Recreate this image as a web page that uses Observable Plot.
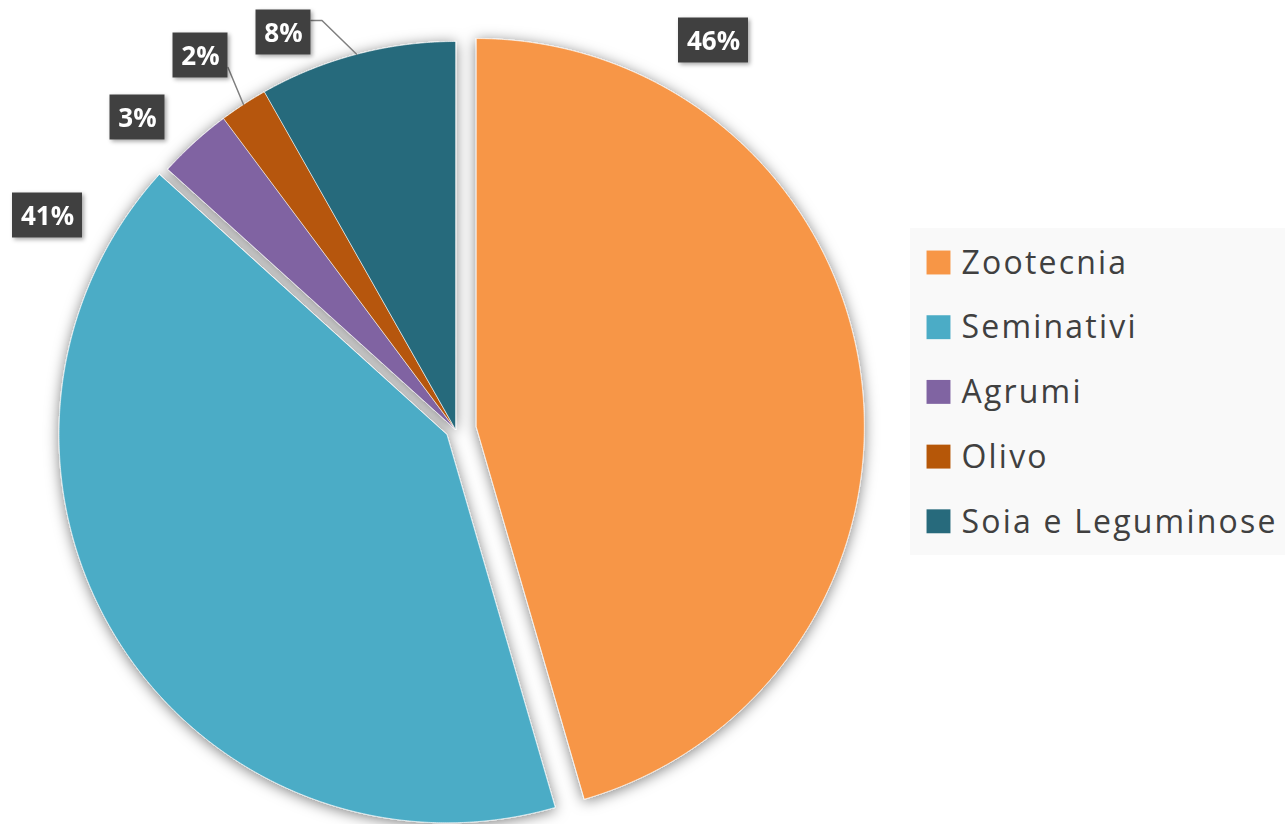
<!DOCTYPE html>
<html>
<head>
<meta charset="utf-8">
<script src="https://cdn.jsdelivr.net/npm/d3@7"></script>
<script src="https://cdn.jsdelivr.net/npm/@observablehq/plot@0.6"></script>
<style>
  html, body { margin: 0; padding: 0; background: #ffffff; }
  #chart { width: 1285px; height: 824px; }
</style>
</head>
<body>
<div id="chart"></div>
<script>
// ---- data ----
const names = ["Zootecnia", "Seminativi", "Agrumi", "Olivo", "Soia e Leguminose"];
const values = [45.5, 41.2, 3.1, 2.0, 8.2];
const labels = ["46%", "41%", "3%", "2%", "8%"];
const colors = ["#F79646", "#4BACC6", "#8064A2", "#B65708", "#276A7C"];

// ---- layout ----
const W = 1285, H = 824;
const cx = 455, cy = 429, R = 388;
const explode = [21, 10, 0, 0, 0];
const labelPos = [[713, 40], [47, 215], [137, 117], [200, 55], [283, 32]];
const legendBox = {x1: 910, x2: 1285, y1: 228, y2: 555};
const legendX = 938, legendTextX = 961, legendY0 = 262, legendStep = 64.7;

const arcs = d3.pie().sort(null).value(d => d)(values);

// slice polygons
const slicePts = [];
arcs.forEach((a, i) => {
  const mid = (a.startAngle + a.endAngle) / 2;
  const ox = cx + explode[i] * Math.sin(mid);
  const oy = cy - explode[i] * Math.cos(mid);
  slicePts.push({name: names[i], x: ox, y: oy});
  const n = Math.max(4, Math.ceil((a.endAngle - a.startAngle) / 0.005));
  for (let k = 0; k <= n; k++) {
    const t = a.startAngle + (a.endAngle - a.startAngle) * k / n;
    slicePts.push({name: names[i], x: ox + R * Math.sin(t), y: oy - R * Math.cos(t)});
  }
});

// label boxes
const labelData = labels.map((l, i) => {
  const w = l.length >= 3 ? 70 : 55;
  return {label: l, x: labelPos[i][0], y: labelPos[i][1], x1: labelPos[i][0] - w / 2, x2: labelPos[i][0] + w / 2,
          y1: labelPos[i][1] - 22.5, y2: labelPos[i][1] + 22.5};
});

// leader lines for small slices (Olivo, Soia)
const leaders = [];
function edgePoint(i) {
  const a = arcs[i];
  const mid = (a.startAngle + a.endAngle) / 2;
  return [cx + R * Math.sin(mid), cy - R * Math.cos(mid)];
}
{
  const b = labelData[3];
  const e = edgePoint(3);
  leaders.push({id: "olivo", x: b.x2, y: b.y + 12});
  leaders.push({id: "olivo", x: e[0], y: e[1]});
}
{
  const b = labelData[4];
  const e = edgePoint(4);
  leaders.push({id: "soia", x: b.x2, y: b.y - 12});
  leaders.push({id: "soia", x: b.x2 + 11, y: b.y - 12});
  leaders.push({id: "soia", x: e[0], y: e[1]});
}

// legend rows
const legendData = names.map((n, i) => ({name: n, x: legendX, tx: legendTextX, y: legendY0 + i * legendStep}));

const sliceMarks = names.map((n, i) =>
  Plot.line(slicePts.filter(d => d.name === n), {x: "x", y: "y", fill: colors[i], stroke: "#ffffff",
    strokeWidth: 0.8, strokeOpacity: 0.8, curve: "linear-closed"})
);

const chart = Plot.plot({
  width: W,
  height: H,
  margin: 0,
  style: {background: "#ffffff"},
  x: {domain: [0, W], range: [0, W], axis: null},
  y: {domain: [0, H], range: [0, H], axis: null},
  color: {domain: names, range: colors},
  marks: [
    Plot.rect([legendBox], {x1: "x1", x2: "x2", y1: "y1", y2: "y2", fill: "#f9f9f9"}),
    ...sliceMarks,
    Plot.line(leaders, {x: "x", y: "y", z: "id", stroke: "#7f7f7f", strokeWidth: 1.5}),
    Plot.rect(labelData, {x1: "x1", x2: "x2", y1: "y1", y2: "y2", fill: "#404040"}),
    Plot.text(labelData, {x: "x", y: "y", text: "label", fill: "#ffffff", fontSize: 26, fontWeight: "bold",
                          fontFamily: "Open Sans", textAnchor: "middle", dy: 1}),
    Plot.dot(legendData, {x: "x", y: "y", fill: "name", symbol: "square", r: 13.5}),
    Plot.text(legendData, {x: "tx", y: "y", text: "name", fill: "#404040", fontSize: 32,
                           fontFamily: "Open Sans", textAnchor: "start", dy: 1})
  ]
});

// soft shadow like the original
const svg = d3.select(chart);
const defs = svg.insert("defs", ":first-child");
const f = defs.append("filter").attr("id", "pieShadow")
  .attr("filterUnits", "userSpaceOnUse").attr("x", 0).attr("y", 0).attr("width", W).attr("height", H);
f.append("feDropShadow").attr("dx", 0).attr("dy", 2).attr("stdDeviation", 7)
  .attr("flood-color", "#000").attr("flood-opacity", 0.5);
const f2 = defs.append("filter").attr("id", "boxShadow")
  .attr("filterUnits", "userSpaceOnUse").attr("x", 0).attr("y", 0).attr("width", W).attr("height", H);
f2.append("feDropShadow").attr("dx", 2).attr("dy", 2).attr("stdDeviation", 2)
  .attr("flood-color", "#000").attr("flood-opacity", 0.35);

const lineGroups = svg.selectAll('g[aria-label="line"]').nodes();
const sliceGroups = lineGroups.slice(0, names.length);
if (sliceGroups.length) {
  const wrap = document.createElementNS("http://www.w3.org/2000/svg", "g");
  wrap.setAttribute("filter", "url(#pieShadow)");
  sliceGroups[0].parentNode.insertBefore(wrap, sliceGroups[0]);
  sliceGroups.forEach(g => wrap.appendChild(g));
}
const rectGroups = svg.selectAll('g[aria-label="rect"]').nodes();
if (rectGroups[1]) rectGroups[1].setAttribute("filter", "url(#boxShadow)");
const textGroups = svg.selectAll('g[aria-label="text"]').nodes();
if (textGroups[1]) textGroups[1].style.letterSpacing = "2.2px";

document.getElementById("chart").appendChild(chart);
</script>
</body>
</html>
